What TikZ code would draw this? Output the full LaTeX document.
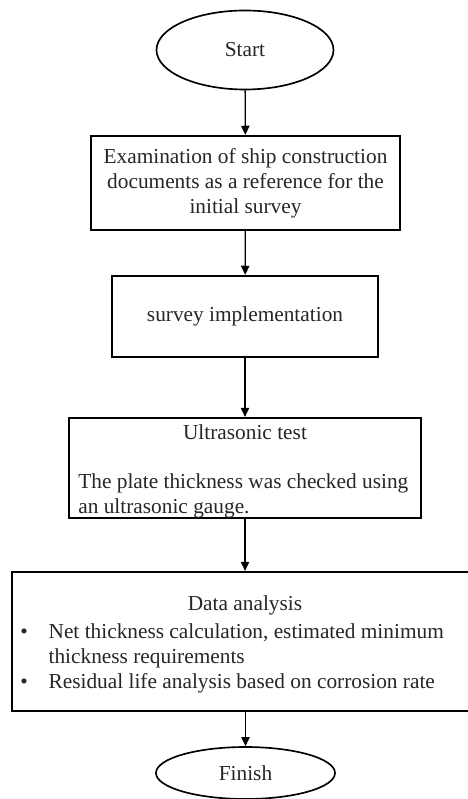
\documentclass[tikz,border=0pt]{standalone}
\usepackage{fontspec}
\setmainfont{Liberation Serif}
\usepackage{tikz}
\usetikzlibrary{shapes.geometric,arrows.meta}

\tikzset{
  term/.style={ellipse,draw,line width=1pt,inner sep=0pt},
  stepbox/.style={rectangle,draw,line width=1.3pt,inner sep=0pt,align=center},
  flow/.style={-{Triangle[length=5.5pt,width=5pt]},line width=0.8pt},
  txt/.style={inner sep=0pt,font=\fontsize{12.8}{15}\selectfont,text=black!85}
}

\begin{document}
\begin{tikzpicture}[x=0.6pt,y=-0.6pt]
\useasboundingbox (0,0) rectangle (468,799);
\clip (0,0) rectangle (468,799);

\node[term,minimum width=106.2pt,minimum height=47.4pt,txt] (start) at (245,50) {Start};
\node[stepbox,minimum width=185.4pt,minimum height=56.4pt,txt] (exam) at (245.5,183)
  {Examination of ship construction\\documents as a reference for the\\initial survey};
\node[stepbox,minimum width=159.6pt,minimum height=48.6pt,txt] (survey) at (245,316.5) {survey implementation};
\node[stepbox,minimum width=211.2pt,minimum height=60pt] (ultra) at (245,468) {};
\node[stepbox,minimum width=286.8pt,minimum height=83.4pt] (data) at (251,641.5) {};
\node[term,minimum width=107.4pt,minimum height=31.2pt,txt] (finish) at (245.5,773) {Finish};

\node[txt] (ultratitle) at (245,432) {Ultrasonic test};
\node[txt,anchor=west,align=left] (ultrabody) at (78,495.5)
  {The plate thickness was checked using\\an ultrasonic gauge.};

\node[txt] (datatitle) at (245,605) {Data analysis};
\node[txt,anchor=west] (datalist) at (20,658)
  {\begin{tabular}{@{}l@{\hspace{12.5pt}}l@{}}
   \textbullet & Net thickness calculation, estimated minimum\\
               & thickness requirements\\
   \textbullet & Residual life analysis based on corrosion rate
   \end{tabular}};

\draw[flow] (start) -- (exam);
\draw[flow] (exam) -- (survey);
\draw[flow] (survey) -- (ultra);
\draw[flow] (ultra.south) -- (data.north -| ultra.south);
\draw[flow] (data.south -| finish.north) -- (finish);
\end{tikzpicture}
\end{document}
